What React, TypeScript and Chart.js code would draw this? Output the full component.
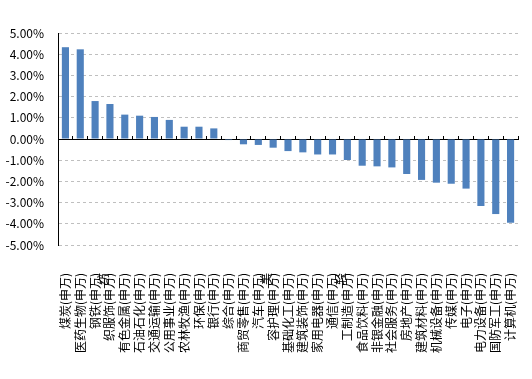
import React, { useEffect, useRef } from "react";
import { Chart, registerables } from "chart.js";

Chart.register(...registerables);

// Industries (申万) as shown under the bars, ranked by return
const tickLabels: (string | string[])[] = [
  "煤炭(申万)",
  "医药生物(申万)",
  ["钢铁(申万)", "纺"],
  "织服饰(申万)",
  "有色金属(申万)",
  "石油石化(申万)",
  "交通运输(申万)",
  "公用事业(申万)",
  "农林牧渔(申万)",
  "环保(申万)",
  "银行(申万)",
  "综合(申万)",
  "商贸零售(申万)",
  ["汽车(申万)", "美"],
  "容护理(申万)",
  "基础化工(申万)",
  "建筑装饰(申万)",
  "家用电器(申万)",
  ["通信(申万)", "轻"],
  "工制造(申万)",
  "食品饮料(申万)",
  "非银金融(申万)",
  "社会服务(申万)",
  "房地产(申万)",
  "建筑材料(申万)",
  "机械设备(申万)",
  "传媒(申万)",
  "电子(申万)",
  "电力设备(申万)",
  "国防军工(申万)",
  "计算机(申万)",
];

// Return in percent
const returns: number[] = [
  4.33, 4.23, 1.79, 1.65, 1.15, 1.1, 1.04, 0.9, 0.58, 0.58, 0.5, -0.05, -0.25,
  -0.28, -0.41, -0.57, -0.63, -0.73, -0.73, -0.99, -1.26, -1.29, -1.34, -1.65,
  -1.93, -2.06, -2.11, -2.34, -3.16, -3.54, -3.95,
];

const yMin = -5;
const yMax = 5;
const yStep = 1;

const FONT = "'Noto Sans CJK SC', 'Noto Sans', sans-serif";

export default function App() {
  const canvasRef = useRef<HTMLCanvasElement | null>(null);

  useEffect(() => {
    const canvas = canvasRef.current;
    if (!canvas) return;
    const chart = new Chart(canvas, {
      type: "bar",
      data: {
        labels: tickLabels,
        datasets: [
          {
            data: returns,
            backgroundColor: "#4F81BD",
            borderWidth: 0,
            barPercentage: 0.48,
            categoryPercentage: 1,
            xAxisID: "x",
            yAxisID: "y",
          },
        ],
      },
      options: {
        responsive: false,
        maintainAspectRatio: false,
        animation: false,
        layout: { padding: { left: 0, right: 14, top: 33, bottom: 0 } },
        plugins: {
          legend: { display: false },
          title: { display: false },
          tooltip: { enabled: false },
        },
        scales: {
          x: {
            type: "category",
            position: { y: 0 } as any,
            offset: true,
            grid: {
              display: true,
              offset: true,
              drawOnChartArea: false,
              drawTicks: true,
              tickLength: -4,
              color: "#000000",
              lineWidth: 1,
            },
            border: { display: true, color: "#000000", width: 1 },
            ticks: { display: false },
          },
          x2: {
            type: "category",
            position: "bottom",
            offset: true,
            afterFit: (scale: any) => {
              scale.height = 134;
              scale.paddingLeft = 0;
              scale.paddingRight = 0;
            },
            grid: { display: false, drawTicks: false, drawOnChartArea: false },
            border: { display: false },
            ticks: {
              autoSkip: false,
              maxRotation: 90,
              minRotation: 90,
              padding: 28,
              color: "#000000",
              font: { family: FONT, size: 12, lineHeight: 0.7 },
            },
          },
          y: {
            type: "linear",
            min: yMin,
            max: yMax,
            afterFit: (scale: any) => {
              scale.width = 58;
              scale.paddingTop = 0;
              scale.paddingBottom = 0;
            },
            grid: {
              display: true,
              drawTicks: false,
              color: "#BFBFBF",
              lineWidth: 1,
            },
            border: { display: true, color: "#000000", width: 1, dash: [3, 3] },
            ticks: {
              stepSize: yStep,
              padding: 14,
              color: "#000000",
              font: { family: FONT, size: 12 },
              callback: (v: any) => Number(v).toFixed(2) + "%",
            },
          },
        },
      },
    });
    return () => chart.destroy();
  }, []);

  return (
    <div style={{ position: "absolute", left: 0, top: 0, width: 532, height: 379, background: "#ffffff" }}>
      <canvas ref={canvasRef} width={532} height={379} />
    </div>
  );
}
